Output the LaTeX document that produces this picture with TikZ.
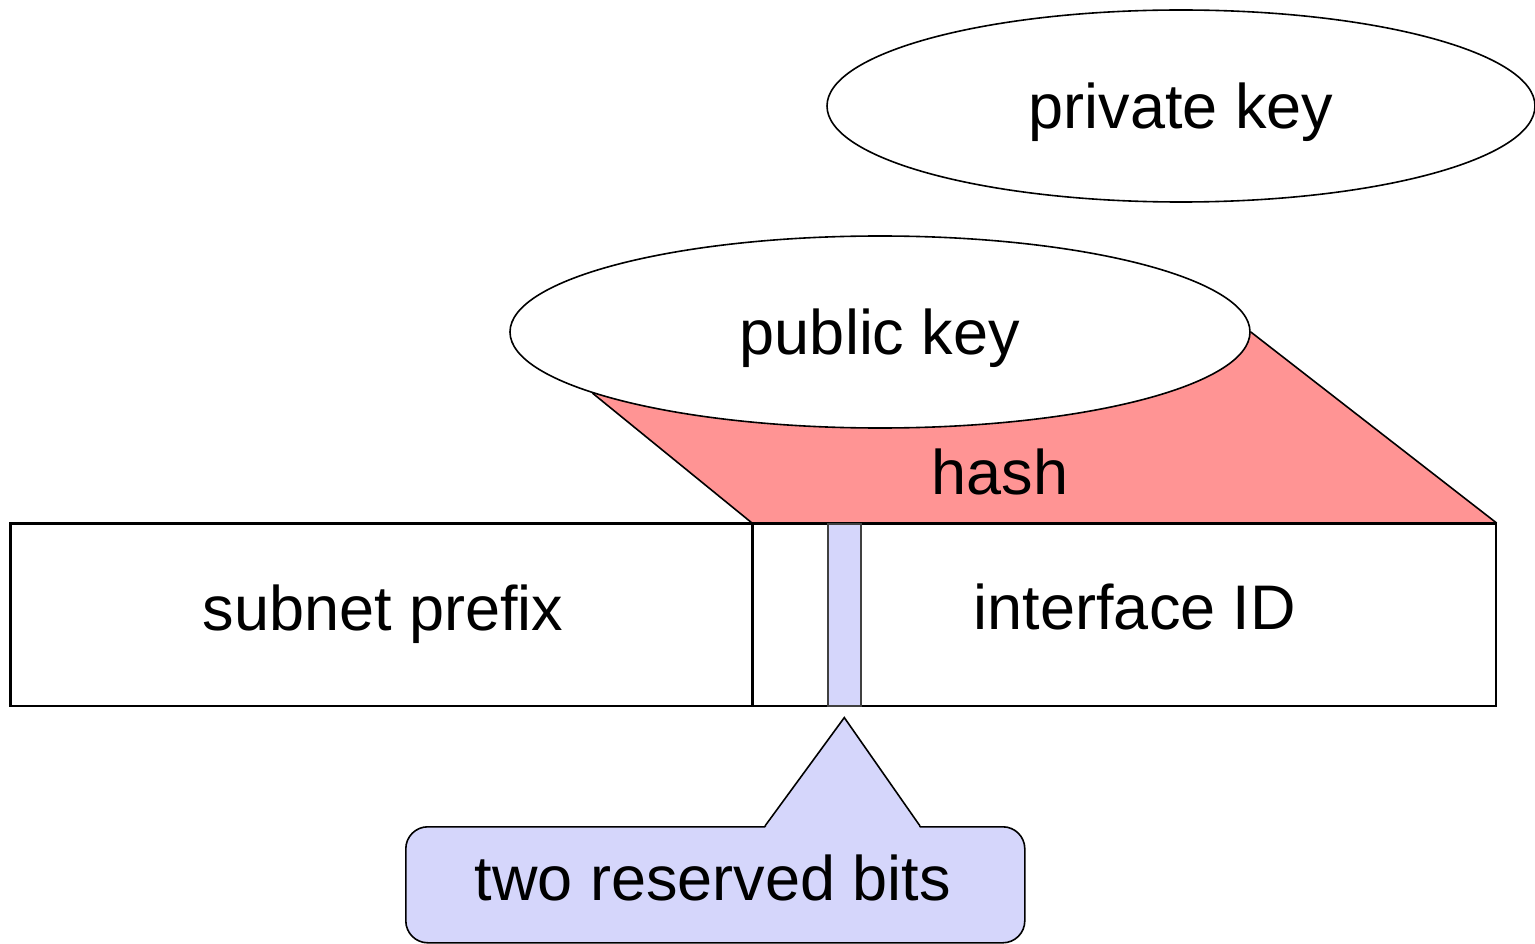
\documentclass[tikz,border=0pt]{standalone}
\usepackage{fontspec}
\setmainfont{Liberation Sans}
\usetikzlibrary{shapes.geometric,calc}
\definecolor{hashred}{RGB}{255,148,148}
\definecolor{bitblue}{RGB}{213,214,251}
\tikzset{
  ln/.style={line width=1.6pt, draw=black},
  keyell/.style={ellipse, ln, fill=white, inner sep=0pt, font=\fontsize{63}{70}\selectfont, text height=58pt, text depth=13pt},
  fieldbox/.style={rectangle, ln, fill=white, inner sep=0pt, anchor=north west},
  lbl/.style={font=\fontsize{63}{70}\selectfont, inner sep=0pt},
}
\begin{document}
\begin{tikzpicture}[x=1pt,y=-1pt]
\useasboundingbox (0,0) rectangle (1535,944);
% public key ellipse placed first (as coordinate reference)
\node[keyell, minimum width=740pt, minimum height=192pt, draw=none, fill=none] (pubref) at (880,332) {};
% boxes
\node[fieldbox, minimum width=742pt, minimum height=182pt] (subnet) at (10,523) {};
\node[fieldbox, minimum width=743pt, minimum height=182pt] (iface) at (752,523) {};
% hash region
\fill[hashred] (pubref.192) -- (iface.north west) -- (iface.north east) -- (pubref.east) -- cycle;
\draw[ln] (pubref.192) -- (iface.north west);
\draw[ln] (pubref.east) -- (iface.north east);
\draw[ln] (subnet.north west) rectangle (iface.south east);
\draw[ln] (iface.north west) -- (iface.south west);
% reserved bits bar
\node[rectangle, line width=1.6pt, draw=black!75, fill=bitblue, minimum width=33pt, minimum height=182pt, inner sep=0pt, anchor=north west] (bits) at (827,523) {};
% ellipses
\node[keyell, minimum width=740pt, minimum height=192pt] (pub) at (880,332) {public key};
\node[keyell, minimum width=708pt, minimum height=192pt] (priv) at (1181,106) {private key};
% labels
\node[lbl] (hashlbl) at (1000,472) {hash};
\node[lbl] (subnetlbl) at (383,614) {subnet prefix};
\node[lbl] (ifacelbl) at (1135,607) {interface ID};
% callout
\node[rectangle, rounded corners=22pt, ln, fill=bitblue, minimum width=619pt, minimum height=116pt, inner sep=0pt, anchor=north west] (callout) at (405,826) {};
\coordinate (tip) at ([yshift=-11pt]bits.south);
\coordinate (pl) at (765,826);
\coordinate (pr) at (920,826);
\fill[bitblue] ($(pl)+(0,2)$) -- (tip) -- ($(pr)+(0,2)$) -- cycle;
\draw[ln] (pl) -- (tip) -- (pr);
\node[lbl] (calloutlbl) at (713,878) {two reserved bits};
\end{tikzpicture}
\end{document}
